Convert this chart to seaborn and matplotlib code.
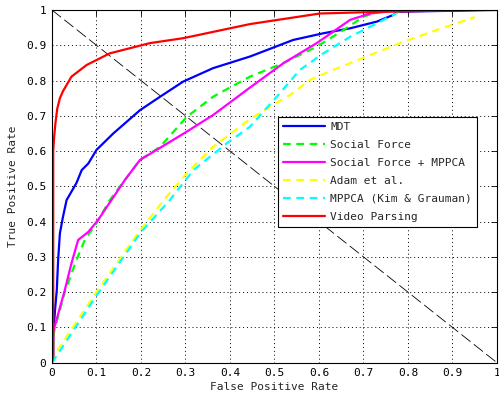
import numpy as np
import pandas as pd
import matplotlib
matplotlib.use("Agg")
import matplotlib.pyplot as plt
import seaborn as sns

# ---- data ----
mdt_x = [0, 0.003, 0.003, 0.007, 0.011, 0.014, 0.018, 0.025, 0.033, 0.055, 0.067, 0.082, 0.10, 0.138,
         0.198, 0.243, 0.295, 0.362, 0.445, 0.542, 0.61, 0.67, 0.73, 0.767, 0.775, 1.0]
mdt_y = [0, 0.008, 0.074, 0.149, 0.206, 0.291, 0.367, 0.414, 0.461, 0.509, 0.546, 0.565, 0.603, 0.650,
         0.716, 0.754, 0.797, 0.835, 0.868, 0.915, 0.934, 0.948, 0.967, 0.986, 0.995, 1.0]

sf_x = [0, 0.005, 0.029, 0.055, 0.074, 0.10, 0.13, 0.198, 0.243, 0.303, 0.362, 0.445, 0.519, 0.595,
        0.655, 0.70, 0.737, 0.75]
sf_y = [0, 0.09, 0.2, 0.291, 0.348, 0.395, 0.461, 0.575, 0.612, 0.697, 0.754, 0.811, 0.849, 0.896,
        0.943, 0.981, 0.997, 1.0]

sfm_x = [0, 0.003, 0.029, 0.044, 0.059, 0.082, 0.104, 0.164, 0.198, 0.235, 0.303, 0.362,
         0.445, 0.52, 0.595, 0.67, 0.715, 0.767, 0.78]
sfm_y = [0, 0.088, 0.206, 0.282, 0.348, 0.371, 0.405, 0.518, 0.575, 0.603, 0.655, 0.702,
         0.78, 0.849, 0.906, 0.972, 0.99, 0.997, 1.0]

adam_x = [0, 0.003, 0.10, 0.198, 0.258, 0.303, 0.362, 0.445, 0.49, 0.535, 0.58, 0.632, 0.707, 0.79,
          0.864, 0.932, 0.95]
adam_y = [0, 0.017, 0.20, 0.375, 0.471, 0.537, 0.612, 0.69, 0.726, 0.759, 0.802, 0.83, 0.868, 0.91,
          0.943, 0.972, 0.98]

mppca_x = [0, 0.003, 0.10, 0.20, 0.265, 0.318, 0.393, 0.445, 0.505, 0.557, 0.61, 0.67, 0.722, 0.767,
           0.78, 0.80]
mppca_y = [0, 0.005, 0.19, 0.37, 0.461, 0.546, 0.622, 0.669, 0.754, 0.83, 0.877, 0.924, 0.957, 0.986,
           0.995, 1.0]

vp_x = [0, 0.003, 0.003, 0.005, 0.008, 0.012, 0.018, 0.025, 0.044, 0.078, 0.13, 0.22, 0.295, 0.445,
        0.602, 0.744, 0.955]
vp_y = [0, 0.02, 0.60, 0.64, 0.68, 0.72, 0.75, 0.77, 0.811, 0.844, 0.877, 0.906, 0.92, 0.96,
        0.99, 0.995, 1.0]

diag_x = [0, 1]
diag_y = [1, 0]

series = [
    ("MDT", mdt_x, mdt_y, "#0000ff", False),
    ("Social Force", sf_x, sf_y, "#00ff00", True),
    ("Social Force + MPPCA", sfm_x, sfm_y, "#ff00ff", False),
    ("Adam et al.", adam_x, adam_y, "#ffff00", True),
    ("MPPCA (Kim & Grauman)", mppca_x, mppca_y, "#00ffff", True),
    ("Video Parsing", vp_x, vp_y, "#ff0000", False),
]

ticks = [0, 0.1, 0.2, 0.3, 0.4, 0.5, 0.6, 0.7, 0.8, 0.9, 1]
tick_labels = ["0", "0.1", "0.2", "0.3", "0.4", "0.5", "0.6", "0.7", "0.8", "0.9", "1"]

sns.set_style("white")
plt.rcParams["font.family"] = ["DejaVu Sans Mono", "DejaVu Sans"]

fig = plt.figure(figsize=(4.99, 3.99), dpi=100)
ax = fig.add_axes([0.104, 0.091, 0.892, 0.884])

# diagonal reference line
sns.lineplot(x=diag_x, y=diag_y, ax=ax, color="black", lw=0.6,
             estimator=None, sort=False, legend=False)
ax.lines[-1].set_dashes((14, 5))

for name, xs, ys, col, dashed in series:
    df = pd.DataFrame({"x": xs, "y": ys})
    sns.lineplot(data=df, x="x", y="y", ax=ax, color=col, lw=1.6, estimator=None,
                 sort=False, label=name)
    if dashed:
        ax.lines[-1].set_dashes((3.5, 2.5))

ax.set_xlim(0, 1)
ax.set_ylim(0, 1)
ax.set_xticks(ticks)
ax.set_xticklabels(tick_labels)
ax.set_yticks(ticks)
ax.set_yticklabels(tick_labels)
ax.tick_params(direction="in", length=4, width=0.6, top=True, right=True,
               labelsize=8, colors="black", pad=4)
ax.grid(True, color="black", linestyle=(0, (1, 3)), lw=0.7)
for sp in ax.spines.values():
    sp.set_color("black")
    sp.set_linewidth(0.8)

ax.set_xlabel("False Positive Rate", fontsize=8, labelpad=3)
ax.set_ylabel("True Positive Rate", fontsize=8, labelpad=6)

leg = ax.legend(loc="upper left", bbox_to_anchor=(0.508, 0.697), fontsize=8,
                fancybox=False, edgecolor="black", framealpha=1, handlelength=3.8,
                handletextpad=0.45, labelspacing=0.72, borderpad=0.45, borderaxespad=0)
leg.get_frame().set_linewidth(0.8)
fig.savefig("out.png", dpi=100, facecolor="white")
